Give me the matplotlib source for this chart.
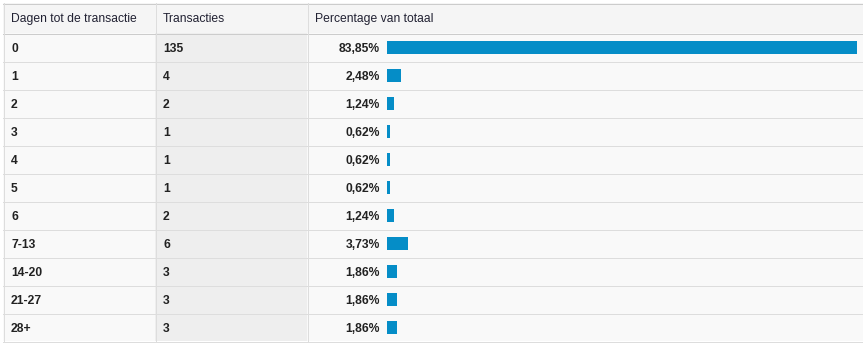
import matplotlib.pyplot as plt
from matplotlib.patches import Rectangle

# data
dagen = ["0", "1", "2", "3", "4", "5", "6", "7-13", "14-20", "21-27", "28+"]
transacties = [135, 4, 2, 1, 1, 1, 2, 6, 3, 3, 3]
percentage = [83.85, 2.48, 1.24, 0.62, 0.62, 0.62, 1.24, 3.73, 1.86, 1.86, 1.86]
headers = ["Dagen tot de transactie", "Transacties", "Percentage van totaal"]

W, H = 863, 345
n = len(dagen)
top, head_h, row_h = 3, 30, 28
left, col2, col3, right = 3, 155, 307, 863
table_bottom = top + head_h + n * row_h
LW = 72 / 100  # one pixel

plt.rcParams["font.family"] = ["Liberation Sans", "DejaVu Sans"]
fig = plt.figure(figsize=(W / 100, H / 100), dpi=100)
fig.patch.set_facecolor("white")

# table grid in pixel coords
ax = fig.add_axes([0, 0, 1, 1])
ax.set_xlim(0, W)
ax.set_ylim(H, 0)
ax.axis("off")

ax.add_patch(Rectangle((left, top), right - left, head_h, fc="#f5f5f5", ec="none"))
ax.add_patch(Rectangle((left, top + head_h), right - left, n * row_h, fc="#f9f9f9", ec="none"))
ax.add_patch(Rectangle((col2, top + head_h), col3 - col2, n * row_h, fc="#eeeeee", ec="none"))

ax.plot([left, right], [top + 0.5, top + 0.5], color="#cccccc", lw=LW)
ax.plot([left, right], [top + head_h + 0.5, top + head_h + 0.5], color="#cccccc", lw=LW)
for i in range(1, n + 1):
    y = top + head_h + i * row_h + 0.5
    ax.plot([left, right], [y, y], color="#dddddd", lw=LW)
for x in (left, col2, col3):
    ax.plot([x + 0.5, x + 0.5], [top, table_bottom], color="#dddddd", lw=LW)

txt = dict(fontsize=8.7, va="baseline")
hy = top + head_h / 2 + 4
ax.text(11, hy, headers[0], color="#222233", **txt)
ax.text(163, hy, headers[1], color="#222233", **txt)
ax.text(315, hy, headers[2], color="#222233", **txt)

for i in range(n):
    y = top + head_h + (i + 0.5) * row_h + 4.5
    ax.text(11, y, dagen[i], color="#222222", fontweight="bold", **txt)
    ax.text(163, y, str(transacties[i]), color="#222222", fontweight="bold", **txt)
    ax.text(380, y, f"{percentage[i]:.2f}%".replace(".", ","), color="#222222",
            fontweight="bold", ha="right", **txt)

# bars
bx0, bx1 = 387, 857
bax = fig.add_axes([bx0 / W, 1 - table_bottom / H, (bx1 - bx0) / W, n * row_h / H])
bax.barh(range(n), percentage, height=13 / row_h, color="#058dc7", left=0)
bax.set_xlim(0, max(percentage))
bax.set_ylim(n - 0.5, -0.5)
bax.axis("off")

fig.savefig("out.png", dpi=100)
